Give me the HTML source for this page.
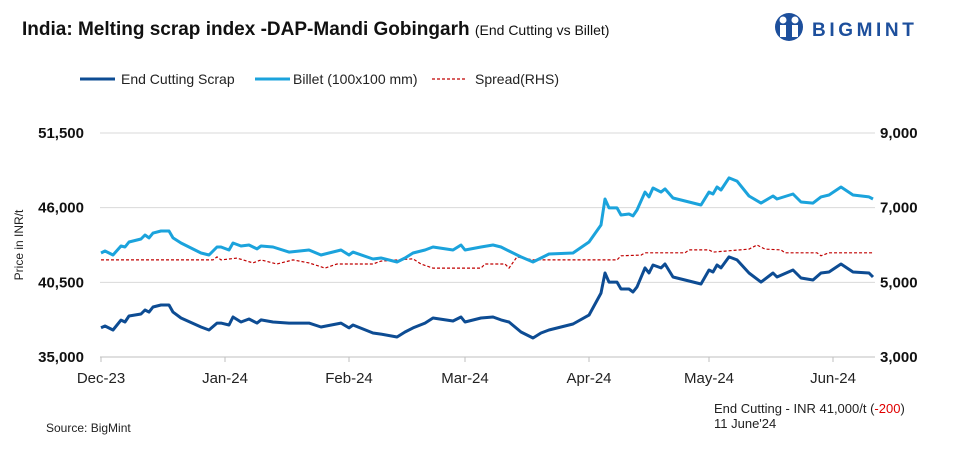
<!DOCTYPE html>
<html><head><meta charset="utf-8"><style>
body{margin:0;background:#fff;font-family:"Liberation Sans",sans-serif;}
#wrap{position:relative;width:957px;height:458px;overflow:hidden;}
svg{position:absolute;left:0;top:0;}
</style></head><body>
<div id="wrap">
<svg id="c" width="957" height="458">
<text x="22" y="35" font-size="19" font-weight="bold" fill="#111">India: Melting scrap index -DAP-Mandi Gobingarh <tspan font-size="14" font-weight="normal">(End Cutting vs Billet)</tspan></text>
<g>
<circle cx="789" cy="27" r="14" fill="#1d4f9c"/>
<circle cx="783" cy="20" r="3.5" fill="#fff"/><circle cx="795" cy="20" r="3.5" fill="#fff"/>
<rect x="780" y="25" width="6" height="12" fill="#fff"/><rect x="792" y="25" width="6" height="12" fill="#fff"/>
<text x="812" y="36" font-size="19" font-weight="bold" fill="#1d4f9c" letter-spacing="3.6">BIGMINT</text>
</g>
<g>
<line x1="80" y1="79" x2="115" y2="79" stroke="#0d4c93" stroke-width="3"/>
<text x="121" y="84" font-size="14" fill="#222">End Cutting Scrap</text>
<line x1="255" y1="79" x2="290" y2="79" stroke="#1ba3dc" stroke-width="3"/>
<text x="293" y="84" font-size="14" fill="#222">Billet (100x100 mm)</text>
<line x1="432" y1="79" x2="467" y2="79" stroke="#c00000" stroke-width="1.2" stroke-dasharray="3,2"/>
<text x="475" y="84" font-size="14" fill="#222">Spread(RHS)</text>
</g>
<text transform="translate(23,245) rotate(-90)" text-anchor="middle" font-size="12" fill="#222">Price in INR/t</text>
<text x="46" y="432" font-size="12" fill="#222">Source: BigMint</text>
<text x="714" y="413" font-size="13" fill="#222">End Cutting - INR 41,000/t (<tspan fill="#e00000">-200</tspan>)</text>
<text x="714" y="428" font-size="13" fill="#222">11 June'24</text>
<g id="plot"></g>
</svg>
</div>
<script>
const leftTicks=[35000,40500,46000,51500];
const rightTicks=[3000,5000,7000,9000];
const monthLabels=["Dec-23","Jan-24","Feb-24","Mar-24","Apr-24","May-24","Jun-24"];
const monthDays=[0,31,62,91,122,152,183];
const days=[0,1,3,5,6,7,10,11,12,13,15,17,18,20,25,27,29,30,32,33,35,37,39,40,43,47,52,55,60,62,63,68,70,74,76,78,81,83,88,90,91,95,98,100,102,105,108,110,112,118,122,125,126,127,129,130,132,133,134,136,137,138,140,141,143,147,150,152,153,154,155,157,159,162,165,168,169,173,175,178,180,182,185,188,192,193];
const endCutting=[37150,37280,36990,37720,37580,38020,38170,38460,38310,38680,38830,38830,38310,37870,37210,36990,37500,37500,37360,37950,37580,37800,37500,37730,37580,37500,37500,37210,37500,37140,37360,36770,36690,36470,36840,37140,37500,37870,37650,37950,37580,37870,37950,37730,37580,36840,36400,36770,36990,37430,38090,39710,41190,40520,40520,40010,40010,39790,40160,41560,41190,41780,41560,41850,40890,40600,40380,41410,41260,41780,41560,42370,42150,41190,40520,41190,40890,41410,40820,40670,41190,41260,41850,41260,41190,40890];
const billet=[42660,42810,42510,43180,43100,43470,43690,43990,43770,44130,44280,44280,43770,43400,42660,42510,43100,43100,42880,43400,43180,43250,42960,43180,43100,42730,42880,42510,42880,42510,42730,42220,42290,42000,42290,42660,42880,43100,42880,43250,42880,43100,43250,43100,42810,42370,42000,42290,42590,42660,43470,44720,46640,45980,45980,45460,45530,45390,45830,47150,46790,47450,47150,47380,46710,46420,46200,47150,47010,47520,47300,48190,47960,46860,46340,46860,46640,47010,46420,46340,46790,46930,47520,46930,46790,46640];
const spreadDays=[0,28,29,30,34,38,40,44,48,52,56,59,68,70,78,80,83,95,96,101,102,104,108,129,130,135,136,146,147,152,153,162,164,166,170,171,179,180,182,193];
const spread=[5600,5600,5680,5600,5650,5520,5600,5490,5600,5520,5380,5490,5490,5570,5630,5490,5380,5380,5490,5490,5380,5680,5600,5600,5710,5730,5790,5790,5870,5870,5810,5890,6000,5890,5870,5790,5790,5710,5790,5790];

const X0=101,PX_PER_DAY=4.0,Y0=357,Y1=133;
const xs=d=>X0+d*PX_PER_DAY;
const yl=v=>Y0-(v-35000)/(51500-35000)*(Y0-Y1);
const yr=v=>Y0-(v-3000)/(9000-3000)*(Y0-Y1);
const NS="http://www.w3.org/2000/svg";
const g=document.getElementById('plot');
function mk(t,a){const e=document.createElementNS(NS,t);for(const k in a)e.setAttribute(k,a[k]);g.appendChild(e);return e;}
leftTicks.forEach((v,i)=>{
  if(i>0){const l=mk('line',{x1:100,x2:875,y1:yl(v),y2:yl(v),stroke:'#d9d9d9','stroke-width':1});
  
  }
  const t=mk('text',{x:84,y:yl(v)+5,'text-anchor':'end','font-size':15,'font-weight':'bold',fill:'#111'});
  t.textContent=v.toLocaleString('en-US');
  
  
});
rightTicks.forEach(v=>{
  const t=mk('text',{x:880,y:yr(v)+5,'font-size':15,'font-weight':'bold',fill:'#111'});
  t.textContent=v.toLocaleString('en-US');
  
  
});
const ax=mk('line',{x1:100,x2:875,y1:Y0,y2:Y0,stroke:'#bfbfbf','stroke-width':1});


monthLabels.forEach((m,i)=>{
  const tk=mk('line',{x1:xs(monthDays[i]),x2:xs(monthDays[i]),y1:Y0,y2:Y0+5,stroke:'#bfbfbf'});
  
  
  const t=mk('text',{x:xs(monthDays[i]),y:383,'text-anchor':'middle','font-size':15,fill:'#222'});
  t.textContent=m;
  
  
});
function path(dd,vals,yf){return vals.map((v,i)=>(i?'L':'M')+xs(dd[i]).toFixed(1)+','+yf(v).toFixed(1)).join('');}
const sp=mk('path',{d:path(spreadDays,spread,yr),fill:'none',stroke:'#c00000','stroke-width':1.2,'stroke-dasharray':'3,2'});


const bl=mk('path',{d:path(days,billet,yl),fill:'none',stroke:'#1ba3dc','stroke-width':3,'stroke-linejoin':'round'});


const ec=mk('path',{d:path(days,endCutting,yl),fill:'none',stroke:'#0d4c93','stroke-width':3,'stroke-linejoin':'round'});


</script>
</body></html>
